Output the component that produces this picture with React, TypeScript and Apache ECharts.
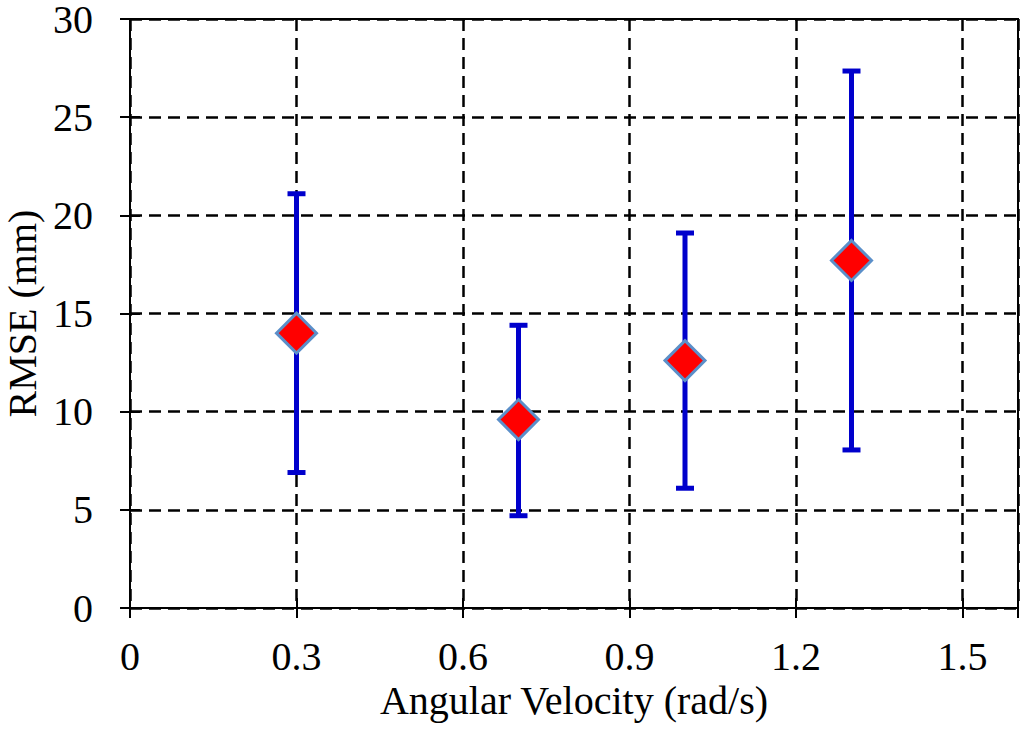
import React, { useEffect, useRef } from "react";
import * as echarts from "echarts";

const xValues = [0.3, 0.7, 1.0, 1.3];
const meanValues = [14.0, 9.6, 12.6, 17.7];
const lowerValues = [6.9, 4.7, 6.1, 8.05];
const upperValues = [21.1, 14.4, 19.1, 27.35];
const xTicks = [0, 0.3, 0.6, 0.9, 1.2, 1.5];
const yTicks = [0, 5, 10, 15, 20, 25, 30];

const FONT = "Liberation Serif";

export default function App() {
  const ref = useRef<HTMLDivElement>(null);
  useEffect(() => {
    if (!ref.current) return;
    const chart = echarts.init(ref.current, undefined, { renderer: "svg" });
    const errData = xValues.map((x, i) => [x, lowerValues[i], upperValues[i]]);
    const pointData = xValues.map((x, i) => [x, meanValues[i]]);
    const labelStyle = { fontFamily: FONT, fontSize: 40, color: "#000" };
    const dash = { color: "#000", width: 2.5, type: [12, 7] };
    chart.setOption({
      animation: false,
      backgroundColor: "#fff",
      grid: {
        left: 130,
        right: 6,
        top: 19,
        bottom: 136,
        containLabel: false,
        outerBoundsMode: "none",
        show: true,
        borderColor: "#000",
        borderWidth: 2,
        backgroundColor: "transparent",
      },
      xAxis: [
        {
          type: "value",
          min: 0,
          max: 1.6,
          interval: 0.3,
          name: "Angular Velocity (rad/s)",
          nameLocation: "middle",
          nameGap: 72,
          nameTextStyle: labelStyle,
          axisLine: { show: true, lineStyle: { color: "#000", width: 2 } },
          axisTick: { show: true, length: 10, lineStyle: { color: "#000", width: 2 } },
          axisLabel: {
            ...labelStyle,
            margin: 28,
            formatter: (v: number) => (xTicks.some((t) => Math.abs(t - v) < 1e-6) ? String(Math.round(v * 10) / 10) : ""),
          },
          splitLine: { show: true, lineStyle: dash },
        },
        {
          type: "value",
          min: 0,
          max: 1.6,
          interval: 0.3,
          position: "bottom",
          axisLine: { show: false },
          axisTick: { show: true, inside: true, length: 10, lineStyle: { color: "#000", width: 2 } },
          axisLabel: { show: false },
          splitLine: { show: false },
        },
      ],
      yAxis: [
        {
          type: "value",
          min: 0,
          max: 30,
          interval: 5,
          name: "RMSE (mm)",
          nameLocation: "middle",
          nameGap: 86,
          nameTextStyle: labelStyle,
          axisLine: { show: true, lineStyle: { color: "#000", width: 2 } },
          axisTick: { show: true, length: 10, lineStyle: { color: "#000", width: 2 } },
          axisLabel: {
            ...labelStyle,
            lineHeight: 30,
            margin: 37,
            formatter: (v: number) => (yTicks.includes(v) ? String(v) : ""),
          },
          splitLine: { show: true, lineStyle: dash },
        },
        {
          type: "value",
          min: 0,
          max: 30,
          interval: 5,
          position: "left",
          axisLine: { show: false },
          axisTick: { show: true, inside: true, length: 10, lineStyle: { color: "#000", width: 2 } },
          axisLabel: { show: false },
          splitLine: { show: false },
        },
      ],
      series: [
        {
          type: "custom",
          xAxisIndex: 0,
          yAxisIndex: 0,
          data: errData,
          z: 3,
          renderItem: (params: any, api: any) => {
            const x = api.value(0);
            const lo = api.coord([x, api.value(1)]);
            const hi = api.coord([x, api.value(2)]);
            const capHalf = 9;
            const style = { stroke: "#0000CC", lineWidth: 5 };
            return {
              type: "group",
              children: [
                { type: "line", shape: { x1: lo[0], y1: lo[1], x2: hi[0], y2: hi[1] }, style },
                { type: "line", shape: { x1: lo[0] - capHalf, y1: lo[1], x2: lo[0] + capHalf, y2: lo[1] }, style },
                { type: "line", shape: { x1: hi[0] - capHalf, y1: hi[1], x2: hi[0] + capHalf, y2: hi[1] }, style },
              ],
            };
          },
        },
        {
          type: "scatter",
          xAxisIndex: 0,
          yAxisIndex: 0,
          data: pointData,
          z: 4,
          symbol: "diamond",
          symbolSize: [40, 40],
          itemStyle: { color: "#FF0000", borderColor: "#5B8FC9", borderWidth: 3, opacity: 1 },
        },
      ],
    });
    return () => chart.dispose();
  }, []);
  return (
    <div
      ref={ref}
      style={{ position: "fixed", left: 0, top: 0, width: 1024, height: 744, background: "#fff" }}
    />
  );
}
